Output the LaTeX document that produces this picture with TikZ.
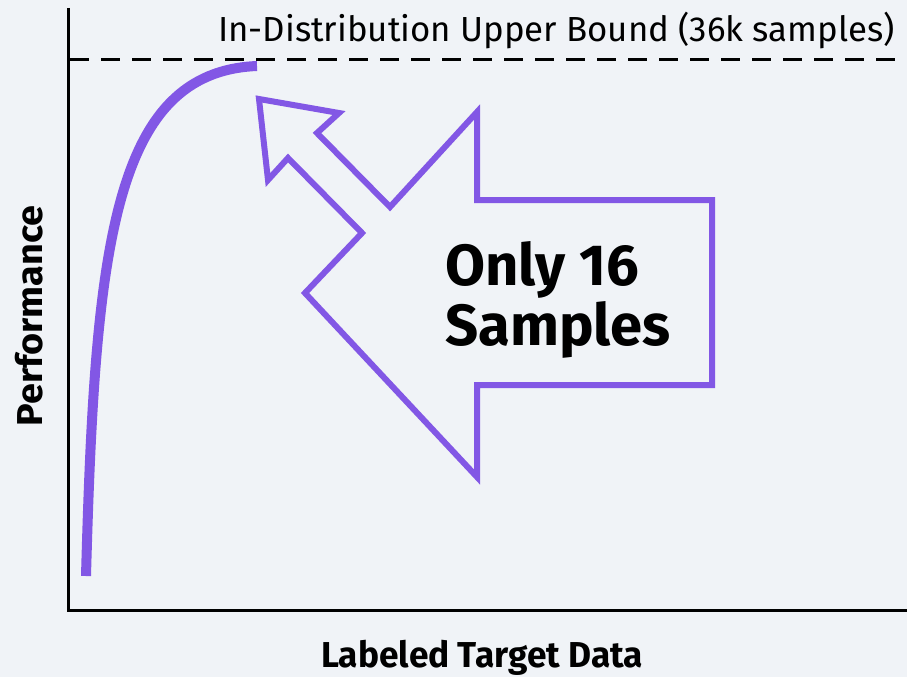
\documentclass[tikz,border=0pt]{standalone}
\usepackage{fontspec}
\setmainfont{Fira Sans}
\definecolor{bgc}{HTML}{F0F3F7}
\definecolor{purp}{HTML}{8257E5}
\begin{document}
\begin{tikzpicture}[x=1pt,y=-1pt,
  axis/.style={line width=3pt, black},
  bound/.style={line width=3pt, black, dash pattern=on 19pt off 12pt},
  curve/.style={line width=10pt, purp},
  bigarrow/.style={line width=6pt, purp, fill=bgc, line join=miter},
  lbl/.style={font=\fontsize{34.8}{36}\selectfont, inner sep=0pt},
  big/.style={font=\fontsize{58}{60}\bfseries\selectfont, inner sep=0pt},
  axlbl/.style={font=\fontsize{36}{38}\bfseries\selectfont, inner sep=0pt}]
\fill[bgc] (0,0) rectangle (907,677);
\useasboundingbox (0,0) rectangle (907,677);
\coordinate (ytop) at (68,8);
\coordinate (org) at (68,610);
\coordinate (xend) at (907,610);
\coordinate (bl) at (70,60);
\coordinate (br) at (907,60);
\draw[bound] (bl) -- (br);
\draw[axis] (ytop) -- (org) -- (xend);
\coordinate (c0) at (86,576);
\coordinate (c1) at (257,66);
\draw[curve] (c0) .. controls (95,250) and (112,72) .. (c1);
\draw[bigarrow] (259,99) -- (339,113) -- (317,133) -- (390,207) -- (477,112)
  -- (477,200) -- (712,200) -- (712,385) -- (477,385) -- (477,477)
  -- (305,293) -- (362,233) -- (288,158) -- (268,180) -- cycle;
\node[lbl, anchor=base west] (ub) at (218,42) {In-Distribution Upper Bound (36k samples)};
\node[big, anchor=base west] (t1) at (445,285) {Only 16};
\node[big, anchor=base west] (t2) at (445,345) {Samples};
\node[axlbl, anchor=base] (xl) at (482,667) {\scalebox{0.98}[1]{Labeled Target Data}};
\node[axlbl, anchor=base, rotate=90] (yl) at (42,316) {\scalebox{1.05}[1]{Performance}};
\end{tikzpicture}
\end{document}
